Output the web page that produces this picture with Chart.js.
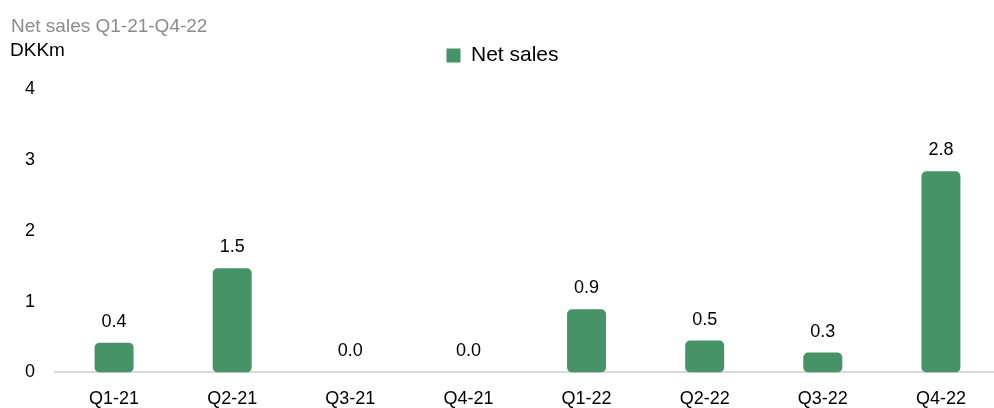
<!DOCTYPE html>
<html>
<head>
<meta charset="utf-8">
<script src="https://cdn.jsdelivr.net/npm/chart.js@4/dist/chart.umd.min.js"></script>
<style>
  html, body { margin: 0; padding: 0; background: #fff; overflow: hidden; }
  #wrap { width: 1000px; height: 426px; position: relative; }
</style>
</head>
<body>
<div id="wrap"><canvas id="salesChart"></canvas></div>
<script>
const quarters = ["Q1-21", "Q2-21", "Q3-21", "Q4-21", "Q1-22", "Q2-22", "Q3-22", "Q4-22"];
const netSales = [0.42, 1.47, 0, 0, 0.89, 0.45, 0.28, 2.84];
const yTicks = [0, 1, 2, 3, 4];

const green = "#459366";
const fontFamily = "'Liberation Sans', Arial, sans-serif";

// header texts top left
const headerPlugin = {
  id: "header",
  afterDraw(chart) {
    const ctx = chart.ctx;
    ctx.save();
    ctx.textAlign = "left";
    ctx.textBaseline = "alphabetic";
    ctx.font = "19px " + fontFamily;
    ctx.fillStyle = "#8c8c8c";
    ctx.fillText("Net sales Q1-21-Q4-22", 11, 32);
    ctx.fillStyle = "#000";
    ctx.fillText("DKKm", 10, 56);
    ctx.restore();
  }
};

// extra room under the legend
const legendGap = {
  id: "legendGap",
  beforeInit(chart) {
    const fit = chart.legend.fit;
    chart.legend.fit = function () {
      fit.call(this);
      this.height += 13;
    };
  }
};

// value labels above bars
const valueLabels = {
  id: "valueLabels",
  afterDatasetsDraw(chart) {
    const ctx = chart.ctx;
    const meta = chart.getDatasetMeta(0);
    ctx.save();
    ctx.font = "18px " + fontFamily;
    ctx.fillStyle = "#000";
    ctx.textAlign = "center";
    ctx.textBaseline = "alphabetic";
    meta.data.forEach((bar, i) => {
      ctx.fillText(netSales[i].toFixed(1), bar.x, bar.y - 16);
    });
    ctx.restore();
  }
};

new Chart(document.getElementById("salesChart"), {
  type: "bar",
  data: {
    labels: quarters,
    datasets: [
      {
        label: "Net sales",
        data: netSales,
        backgroundColor: green,
        borderRadius: 5,
        borderSkipped: false,
        barPercentage: 0.33,
        categoryPercentage: 1
      }
    ]
  },
  options: {
    responsive: true,
    maintainAspectRatio: false,
    animation: false,
    layout: { padding: { top: 37, left: 5, right: 0, bottom: 0 } },
    plugins: {
      legend: {
        position: "top",
        align: "center",
        labels: {
          font: { family: fontFamily, size: 21 },
          color: "#000",
          boxWidth: 14,
          boxHeight: 14,
          padding: 8
        }
      },
      tooltip: { enabled: false }
    },
    scales: {
      x: {
        grid: { display: false, drawTicks: false },
        border: { display: true, color: "#d9d9d9", width: 2 },
        ticks: { font: { family: fontFamily, size: 18 }, color: "#000", padding: 16 }
      },
      y: {
        min: 0,
        max: 4,
        afterBuildTicks(axis) {
          axis.ticks = yTicks.map(v => ({ value: v }));
        },
        grid: { display: false, drawTicks: false },
        border: { display: false },
        ticks: { font: { family: fontFamily, size: 18 }, color: "#000", padding: 20 }
      }
    }
  },
  plugins: [headerPlugin, legendGap, valueLabels]
});
</script>
</body>
</html>
